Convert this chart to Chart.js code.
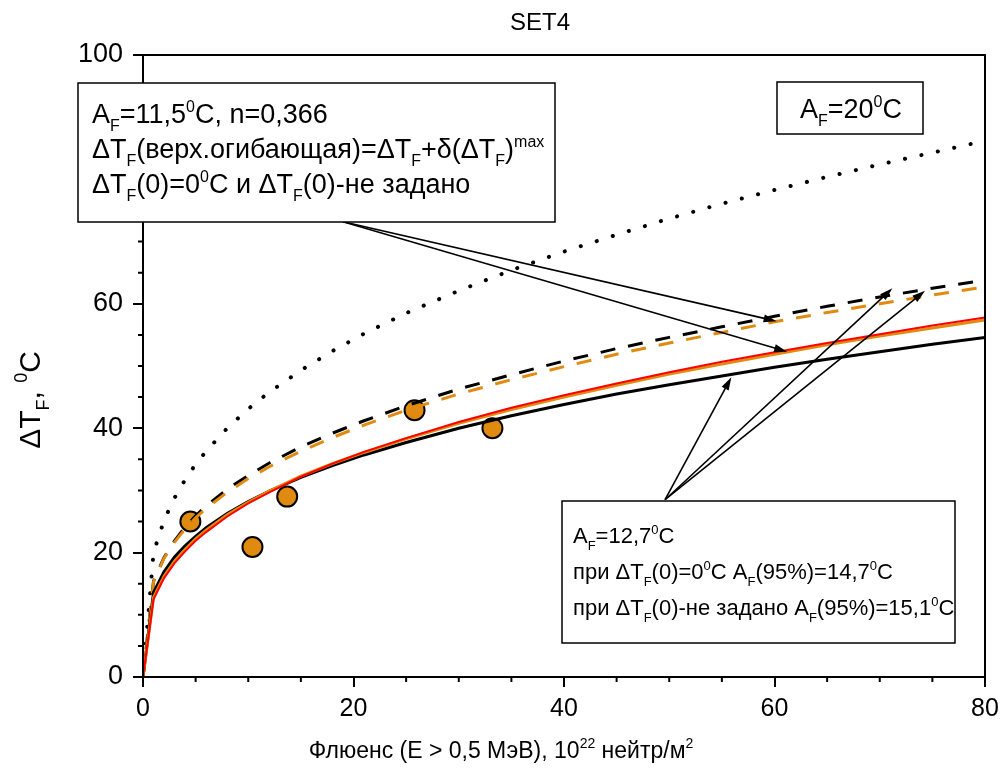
<!DOCTYPE html>
<html>
<head>
<meta charset="utf-8">
<script src="https://cdn.jsdelivr.net/npm/chart.js@4.4.1/dist/chart.umd.min.js"></script>
<style>
  html, body { margin: 0; padding: 0; background: #fff; }
  #wrap { width: 1004px; height: 777px; }
</style>
</head>
<body>
<div id="wrap"><canvas id="grafico" width="1004" height="777"></canvas></div>
<script>
// флюенс, 10^22 нейтр/м^2
const fluence = [0, 1, 2, 3, 4, 5, 6, 8, 10, 12, 15, 18, 21, 25, 30, 35, 40, 45, 50, 55, 60, 65, 70, 75, 80];

// кривые ΔT_F, °C
const af20Dotted   = [0, 20.0, 25.2, 28.8, 31.7, 34.2, 36.3, 40.0, 43.1, 45.8, 49.3, 52.4, 55.2, 58.5, 62.1, 65.4, 68.4, 71.1, 73.7, 76.1, 78.3, 80.4, 82.4, 84.3, 86.2];
const upperBlack   = [0, 15.4, 19.2, 21.9, 24.1, 25.9, 27.5, 30.2, 32.4, 34.4, 37.0, 39.2, 41.2, 43.6, 46.3, 48.6, 50.8, 52.8, 54.6, 56.3, 58.0, 59.6, 61.1, 62.5, 63.8];
const upperOrange  = [0, 15.3, 19.1, 21.7, 23.8, 25.6, 27.1, 29.7, 31.9, 33.8, 36.3, 38.5, 40.5, 42.9, 45.5, 47.8, 49.9, 51.9, 53.7, 55.4, 57.1, 58.6, 60.0, 61.4, 62.7];
const fitBlack     = [0, 13.6, 16.9, 19.3, 21.1, 22.6, 24.0, 26.3, 28.2, 29.9, 32.1, 34.0, 35.7, 37.7, 40.0, 42.0, 43.8, 45.5, 47.0, 48.4, 49.8, 51.1, 52.3, 53.5, 54.6];
const fitRed       = [0, 12.5, 15.9, 18.3, 20.2, 21.9, 23.3, 25.8, 27.9, 29.7, 32.2, 34.3, 36.2, 38.4, 41.0, 43.3, 45.3, 47.2, 49.0, 50.7, 52.2, 53.7, 55.1, 56.5, 57.8];
const fitOrange    = [0, 12.8, 16.2, 18.6, 20.5, 22.2, 23.6, 26.1, 28.1, 29.9, 32.3, 34.3, 36.1, 38.3, 40.8, 43.0, 45.0, 46.9, 48.7, 50.3, 51.9, 53.4, 54.8, 56.1, 57.4];

// экспериментальные точки
const measuredF  = [4.5, 10.4, 13.7, 25.8, 33.2];
const measuredDT = [25.0, 20.9, 29.0, 42.9, 40.0];

// деления осей
const xTicks = [0, 20, 40, 60, 80];
const yTicks = [0, 20, 40, 60, 80, 100];

// стрелки (в единицах данных): [откуда, куда]
const arrowsTop    = [[[19.0, 73.2], [60.2, 57.2]], [[19.0, 73.2], [61.2, 52.3]]];
const arrowsBottom = [[[49.6, 28.5], [55.9, 48.2]], [[49.6, 28.5], [71.2, 62.5]], [[49.6, 28.5], [74.3, 62.1]]];

const ORANGE = '#e08a10';
const FONT = "'Liberation Sans', Arial, sans-serif";

function pares(ys) {
  return fluence.map((x, i) => ({ x, y: ys[i] }));
}

// текст с индексами: _{..} нижний, ^{..} верхний
function partes(str) {
  const out = [];
  const re = /(_\{[^}]*\}|\^\{[^}]*\})/g;
  let last = 0, m;
  while ((m = re.exec(str))) {
    if (m.index > last) out.push({ t: str.slice(last, m.index), k: 0 });
    out.push({ t: m[0].slice(2, -1), k: m[0][0] === '_' ? 1 : 2 });
    last = re.lastIndex;
  }
  if (last < str.length) out.push({ t: str.slice(last), k: 0 });
  return out;
}

function textoRico(c, str, x, y, size, align) {
  const segs = partes(str);
  const small = Math.round(size * 0.6);
  let w = 0;
  segs.forEach(s => {
    c.font = `${s.k ? small : size}px ${FONT}`;
    s.w = c.measureText(s.t).width;
    w += s.w;
  });
  let cx = align === 'center' ? x - w / 2 : x;
  c.textBaseline = 'alphabetic';
  c.textAlign = 'left';
  segs.forEach(s => {
    c.font = `${s.k ? small : size}px ${FONT}`;
    const dy = s.k === 1 ? size * 0.3 : s.k === 2 ? -size * 0.42 : 0;
    c.fillText(s.t, cx, y + dy);
    cx += s.w;
  });
}

function seta(c, x1, y1, x2, y2) {
  const ang = Math.atan2(y2 - y1, x2 - x1);
  const len = 13, half = 4;
  c.beginPath();
  c.moveTo(x1, y1);
  c.lineTo(x2 - Math.cos(ang) * len * 0.8, y2 - Math.sin(ang) * len * 0.8);
  c.stroke();
  c.beginPath();
  c.moveTo(x2, y2);
  c.lineTo(x2 - Math.cos(ang) * len - Math.sin(ang) * half, y2 - Math.sin(ang) * len + Math.cos(ang) * half);
  c.lineTo(x2 - Math.cos(ang) * len + Math.sin(ang) * half, y2 - Math.sin(ang) * len - Math.cos(ang) * half);
  c.closePath();
  c.fill();
}

function caixa(c, x, y, w, h) {
  c.fillStyle = '#fff';
  c.fillRect(x, y, w, h);
  c.strokeStyle = '#000';
  c.lineWidth = 1.5;
  c.strokeRect(x, y, w, h);
  c.fillStyle = '#000';
}

const anotacoes = {
  id: 'anotacoes',
  afterDraw(chart) {
    const c = chart.ctx;
    const { left, right, top, bottom } = chart.chartArea;
    const sx = chart.scales.x, sy = chart.scales.y;
    c.save();

    // рамка
    c.strokeStyle = '#000';
    c.lineWidth = 2;
    c.strokeRect(left, top, right - left, bottom - top);

    // малые деления
    c.lineWidth = 2;
    c.beginPath();
    for (let v = 5; v < 80; v += 5) {
      if (v % 20 === 0) continue;
      const px = sx.getPixelForValue(v);
      c.moveTo(px, bottom);
      c.lineTo(px, bottom + 5);
    }
    for (let v = 5; v < 100; v += 5) {
      if (v % 20 === 0) continue;
      const py = sy.getPixelForValue(v);
      c.moveTo(left, py);
      c.lineTo(left - 5, py);
    }
    c.stroke();

    // стрелки
    c.strokeStyle = '#000';
    c.fillStyle = '#000';
    c.lineWidth = 1.6;
    [...arrowsTop, ...arrowsBottom].forEach(([a, b]) => {
      seta(c, sx.getPixelForValue(a[0]), sy.getPixelForValue(a[1]),
              sx.getPixelForValue(b[0]), sy.getPixelForValue(b[1]));
    });

    // подписи
    caixa(c, 78, 83, 477, 139);
    textoRico(c, 'A_{F}=11,5^{0}C, n=0,366', 92, 123, 27);
    textoRico(c, 'ΔT_{F}(верх.огибающая)=ΔT_{F}+δ(ΔT_{F})^{max}', 92, 158, 27);
    textoRico(c, 'ΔT_{F}(0)=0^{0}C и ΔT_{F}(0)-не задано', 92, 193, 27);

    caixa(c, 777, 82, 146, 52);
    textoRico(c, 'A_{F}=20^{0}C', 851, 118, 27, 'center');

    caixa(c, 562, 501, 393, 142);
    textoRico(c, 'A_{F}=12,7^{0}C', 573, 543, 22);
    textoRico(c, 'при ΔT_{F}(0)=0^{0}C A_{F}(95%)=14,7^{0}C', 573, 579, 22);
    textoRico(c, 'при ΔT_{F}(0)-не задано A_{F}(95%)=15,1^{0}C', 573, 615, 22);

    // заголовки
    textoRico(c, 'SET4', 540, 30, 24, 'center');
    textoRico(c, 'Флюенс (Е > 0,5 МэВ), 10^{22} нейтр/м^{2}', 501, 758, 23, 'center');
    c.translate(40, 400);
    c.rotate(-Math.PI / 2);
    textoRico(c, 'ΔT_{F}, ^{0}C', 0, 0, 30, 'center');

    c.restore();
  }
};

const linha = (label, ys, cor, larg, dash, ordem, extra) => Object.assign({
  label,
  data: pares(ys),
  borderColor: cor,
  backgroundColor: cor,
  borderWidth: larg,
  borderDash: dash,
  pointRadius: 0,
  tension: 0,
  fill: false,
  order: ordem
}, extra || {});

new Chart(document.getElementById('grafico').getContext('2d'), {
  type: 'line',
  data: {
    datasets: [
      linha('A_F=12,7 (чёрн.)', fitBlack, '#000', 3, [], 4),
      linha('A_F=11,5 (оранж.)', fitOrange, ORANGE, 3, [], 3),
      linha('A_F=11,5 (красн.)', fitRed, '#ff0000', 2, [], 2),
      linha('верх. огиб. (чёрн.)', upperBlack, '#000', 3, [15, 13], 6),
      linha('верх. огиб. (оранж.)', upperOrange, ORANGE, 3, [15, 13], 5),
      linha('A_F=20', af20Dotted, '#000', 4, [0.1, 16.7], 7, { borderCapStyle: 'round' }),
      {
        label: 'SET4',
        data: measuredF.map((x, i) => ({ x, y: measuredDT[i] })),
        showLine: false,
        pointRadius: 10,
        pointBackgroundColor: ORANGE,
        pointBorderColor: '#000',
        pointBorderWidth: 2,
        order: 10
      }
    ]
  },
  options: {
    responsive: false,
    animation: false,
    layout: { padding: { left: 0, right: 19, top: 55, bottom: 0 } },
    plugins: {
      legend: { display: false },
      tooltip: { enabled: false },
      title: { display: false }
    },
    scales: {
      x: {
        type: 'linear',
        min: 0,
        max: 80,
        afterBuildTicks(s) { s.ticks = xTicks.map(v => ({ value: v })); },
        afterFit(s) { s.height = 100; s.paddingLeft = 0; s.paddingRight = 0; },
        ticks: { color: '#000', font: { family: FONT, size: 25 }, padding: 7, maxRotation: 0, autoSkip: false },
        grid: { drawOnChartArea: false, tickLength: 10, tickWidth: 2, lineWidth: 2, color: '#000' },
        border: { display: true, width: 2, color: '#000' }
      },
      y: {
        type: 'linear',
        min: 0,
        max: 100,
        afterBuildTicks(s) { s.ticks = yTicks.map(v => ({ value: v })); },
        afterFit(s) { s.width = 143; s.paddingTop = 0; s.paddingBottom = 0; },
        ticks: { color: '#000', font: { family: FONT, size: 27 }, padding: 10, autoSkip: false },
        grid: { drawOnChartArea: false, tickLength: 10, tickWidth: 2, lineWidth: 2, color: '#000' },
        border: { display: true, width: 2, color: '#000' }
      }
    }
  },
  plugins: [anotacoes]
});
</script>
</body>
</html>
